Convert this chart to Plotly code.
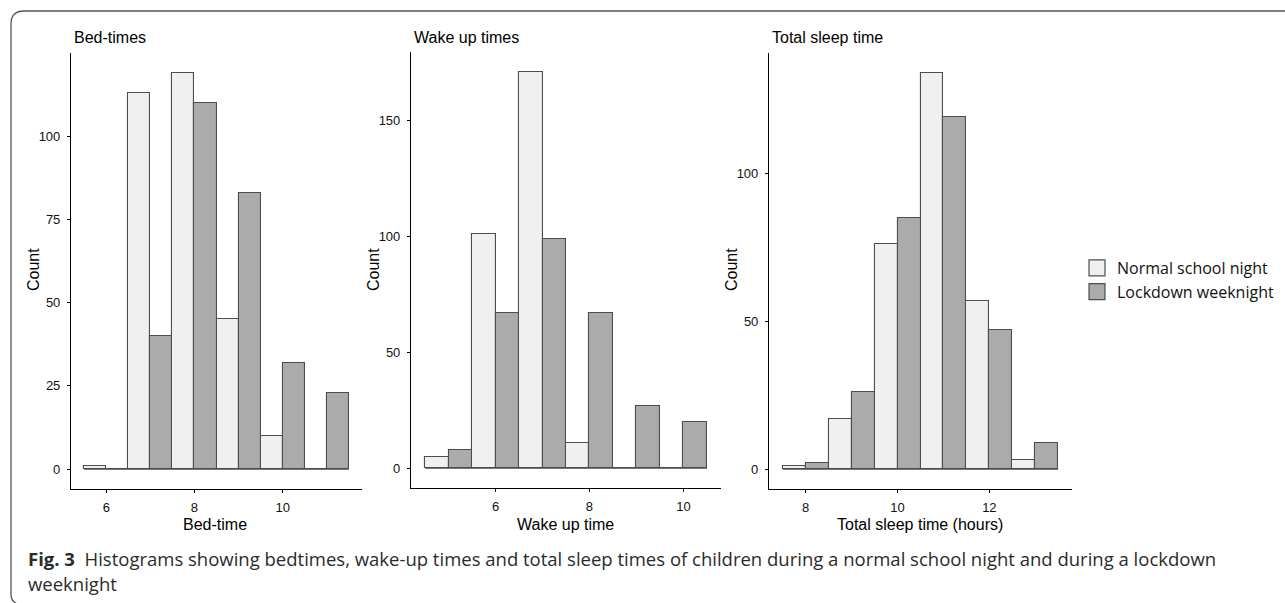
import plotly.graph_objects as go

# ---------------- data ----------------
bed_bins = [6, 7, 8, 9, 10, 11]
bed_normal = [1, 113, 119, 45, 10, 0]
bed_lockdown = [0, 40, 110, 83, 32, 23]

wake_bins = [5, 6, 7, 8, 9, 10]
wake_normal = [5, 101, 171, 11, 0, 0]
wake_lockdown = [8, 67, 99, 67, 27, 20]

sleep_bins = [8, 9, 10, 11, 12, 13]
sleep_normal = [1, 17, 76, 134, 57, 3]
sleep_lockdown = [2, 26, 85, 119, 47, 9]

series_names = ["Normal school night", "Lockdown weeknight"]
panel_titles = ["Bed-times", "Wake up times", "Total sleep time"]
x_titles = ["Bed-time", "Wake up time", "Total sleep time (hours)"]
y_title = "Count"
caption_bold = "Fig. 3"
caption_line1 = ("Histograms showing bedtimes, wake-up times and total sleep times of "
                 "children during a normal school night and during a lockdown")
caption_line2 = "weeknight"

# ---------------- style ----------------
W, H = 1285, 603
FILL = ["#F0F0F0", "#ABABAB"]
EDGE = "#4D4D4D"
AX_FONT = "Liberation Sans, Arial, sans-serif"
CAP_FONT = "Open Sans, Noto Sans, sans-serif"

def px_x(p):
    return p / W

def px_y(p):
    return 1 - p / H

# panel geometry (pixels): left, right, top, bottom
panels = [
    dict(l=71, r=362, t=53, b=489, dtick_x=2, dtick_y=25),
    dict(l=411, r=721, t=52, b=488, dtick_x=2, dtick_y=50),
    dict(l=769, r=1072, t=53, b=489, dtick_x=2, dtick_y=50),
]
data = [
    (bed_bins, bed_normal, bed_lockdown),
    (wake_bins, wake_normal, wake_lockdown),
    (sleep_bins, sleep_normal, sleep_lockdown),
]

fig = go.Figure()
layout = {}
annotations = []

for i, (pan, (bins, nvals, lvals)) in enumerate(zip(panels, data)):
    sfx = "" if i == 0 else str(i + 1)
    xa, ya = "x" + sfx, "y" + sfx
    for name, vals, col in zip(series_names, [nvals, lvals], FILL):
        fig.add_trace(go.Bar(
            x=bins, y=vals, name=name, xaxis=xa, yaxis=ya,
            marker=dict(color=col, line=dict(color=EDGE, width=1.1)),
            showlegend=False, hoverinfo="x+y",
        ))
    # baseline (zero-height bars are drawn as lines in the original)
    fig.add_trace(go.Scatter(
        x=[bins[0] - 0.5, bins[-1] + 0.5], y=[0, 0], mode="lines",
        line=dict(color=EDGE, width=1.1), xaxis=xa, yaxis=ya,
        showlegend=False, hoverinfo="skip",
    ))
    # ggplot-like 5% expansion
    xmin, xmax = bins[0] - 0.5, bins[-1] + 0.5
    xr = xmax - xmin
    ymax = max(max(nvals), max(lvals))
    common = dict(showline=True, linecolor="black", linewidth=1.1,
                  ticks="outside", ticklen=3, tickwidth=1, tickcolor="black",
                  showgrid=False, zeroline=False,
                  tickfont=dict(family=AX_FONT, size=13, color="#111111"))
    layout["xaxis" + sfx] = dict(
        domain=[px_x(pan["l"]), px_x(pan["r"])], anchor=ya,
        range=[xmin - 0.05 * xr, xmax + 0.05 * xr],
        dtick=pan["dtick_x"], tick0=0, ticklabelstandoff=3, **common)
    layout["yaxis" + sfx] = dict(
        domain=[px_y(pan["b"]), px_y(pan["t"])], anchor=xa,
        range=[-0.05 * ymax, 1.05 * ymax],
        dtick=pan["dtick_y"], tick0=0, ticklabelstandoff=4, **common)

    # panel title
    annotations.append(dict(
        text=panel_titles[i], xref="paper", yref="paper",
        x=px_x(pan["l"] + 1), y=px_y(37), xanchor="left", yanchor="middle",
        showarrow=False, font=dict(family=AX_FONT, size=16, color="black")))
    # x title
    annotations.append(dict(
        text=x_titles[i], xref="paper", yref="paper",
        x=px_x((pan["l"] + pan["r"]) / 2 - 1), y=px_y(524), xanchor="center",
        yanchor="middle", showarrow=False,
        font=dict(family=AX_FONT, size=16, color="black")))
    # y title
    annotations.append(dict(
        text=y_title, xref="paper", yref="paper",
        x=px_x(pan["l"] - 38), y=px_y(270), xanchor="center", yanchor="middle",
        textangle=-90, showarrow=False,
        font=dict(family=AX_FONT, size=16, color="black")))

# legend entries
for name, col in zip(series_names, FILL):
    fig.add_trace(go.Scatter(
        x=[None], y=[None], mode="markers", name=name,
        marker=dict(symbol="square", size=16, color=col,
                    line=dict(color=EDGE, width=1.2)),
        hoverinfo="skip"))

# caption
annotations.append(dict(
    text="<b>" + caption_bold + "</b>\u00a0\u00a0" + caption_line1,
    xref="paper", yref="paper", x=px_x(26), y=px_y(558),
    xanchor="left", yanchor="middle", showarrow=False, align="left",
    font=dict(family=CAP_FONT, size=18.5, color="#2b2b2b")))
annotations.append(dict(
    text=caption_line2,
    xref="paper", yref="paper", x=px_x(26), y=px_y(583),
    xanchor="left", yanchor="middle", showarrow=False, align="left",
    font=dict(family=CAP_FONT, size=18.5, color="#2b2b2b")))

# rounded frame (top and left edges)
frame = ("M {x1},{yt} L {xc},{yt} Q {xl},{yt} {xl},{yc} L {xl},{yb} "
         "Q {xl},{yb2} {xc2},{yb3}").format(
    x1=px_x(1285), yt=px_y(11), xc=px_x(24), xl=px_x(11), yc=px_y(24),
    yb=px_y(594), yb2=px_y(601), xc2=px_x(16), yb3=px_y(603))

layout.update(
    width=W, height=H,
    margin=dict(l=0, r=0, t=0, b=0),
    paper_bgcolor="white", plot_bgcolor="white",
    barmode="group", bargap=0, bargroupgap=0,
    showlegend=True,
    legend=dict(x=px_x(1077), y=px_y(251), xanchor="left", yanchor="top",
                font=dict(family=CAP_FONT, size=16, color="#111"),
                tracegroupgap=0, bgcolor="rgba(0,0,0,0)"),
    annotations=annotations,
    shapes=[dict(type="path", path=frame, xref="paper", yref="paper",
                 line=dict(color="#555555", width=1.3))],
)
fig.update_layout(**layout)
fig.write_html(
    "out.html",
    config={"displayModeBar": False},
    post_script="document.body.style.margin='0';"
                "document.body.style.overflow='hidden';",
)
